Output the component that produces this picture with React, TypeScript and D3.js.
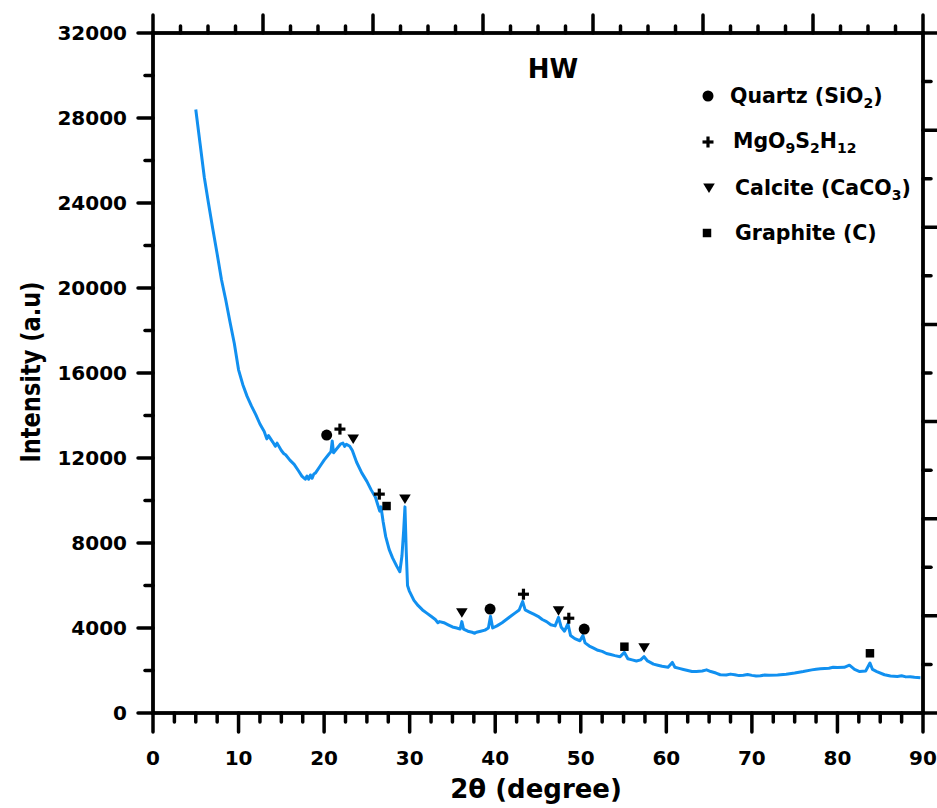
import React from "react";
import * as d3 from "d3";

// ---- data ----
const twoTheta = [
  5.0, 5.5, 6.0, 6.5, 7.0, 7.5, 8.0, 8.5, 9.0, 9.5, 10.0, 10.5, 11.0, 11.5, 12.0, 12.5, 13.0, 13.3, 13.5, 14.0, 14.3, 14.5,
  15.0, 15.3, 15.5, 16.0, 16.5, 17.0, 17.4, 17.8, 18.0, 18.2, 18.4, 18.6, 18.8, 19.0, 19.5, 20.0, 20.5, 20.8, 20.95, 21.1, 21.5, 21.9, 22.2, 22.4, 22.6,
  23.0, 23.3, 23.8, 24.4, 25.0, 25.5, 26.0, 26.5, 26.65, 26.9, 27.2, 27.6, 28.0, 28.5, 28.85, 29.1, 29.3, 29.45, 29.6, 29.75,
  29.95, 30.5, 31.0, 31.5, 32.0, 32.5, 33.0, 33.3, 33.5, 34.0, 34.5, 35.0, 35.5, 35.9, 36.1, 36.3, 36.8, 37.3, 37.6, 37.8, 38.3, 38.8,
  39.2, 39.45, 39.7, 40.2, 40.8, 41.3, 41.8, 42.3, 42.8, 43.2, 43.5, 44.0, 44.5, 45.0, 45.5, 46.0, 46.5, 47.0, 47.4, 47.7,
  48.1, 48.5, 48.8, 49.3, 49.9, 50.25, 50.5, 51.0, 51.5, 52.0, 52.5, 53.0, 53.5, 54.0, 54.6, 55.1, 55.5, 56.0, 56.5, 57.0,
  57.4, 57.8, 58.5, 59.0, 59.5, 60.2, 60.7, 61.0, 61.5, 62.0, 62.5, 63.0, 63.5, 64.2, 64.7, 65.2, 65.8, 66.3, 67.0, 67.5, 68.0, 68.5,
  69.0, 69.5, 70.0, 70.5, 71.0, 71.5, 72.0, 73.0, 74.0, 75.0, 76.0, 77.0, 77.5, 78.0, 79.0, 79.5, 80.0, 80.8, 81.4, 82.0, 82.6, 83.3, 83.8, 84.1, 84.6,
  85.5, 86.2, 87.0, 87.5, 88.0, 88.5, 89.0, 89.7,
];
const intensity = [
  28400, 26800, 25200, 23950, 22750, 21600, 20400, 19450, 18400, 17400, 16150, 15450, 14900, 14450, 14050, 13600, 13250, 12900, 13050, 12750, 12550, 12700,
  12350, 12200, 12150, 11900, 11700, 11400, 11150, 11000, 11150, 11000, 11200, 11050, 11250, 11300, 11600, 11900, 12150, 12300, 12800, 12250, 12450, 12650, 12700, 12550, 12650,
  12550, 12350, 11800, 11300, 10900, 10500, 10150, 9500, 9700, 9000, 8300, 7700, 7300, 6900, 6650, 7400, 8600, 9700, 7600, 6000,
  5750, 5300, 5050, 4850, 4700, 4550, 4400, 4250, 4300, 4250, 4150, 4050, 4000, 3950, 4300, 3950, 3850, 3800, 3750, 3800, 3850, 3900,
  4000, 4550, 4000, 4100, 4250, 4400, 4550, 4700, 4850, 5250, 4850, 4750, 4650, 4550, 4400, 4300, 4150, 4100, 4500, 4050,
  3850, 4200, 3650, 3500, 3400, 3650, 3300, 3150, 3050, 2950, 2900, 2800, 2750, 2700, 2650, 2850, 2550, 2500, 2450, 2500,
  2650, 2450, 2300, 2250, 2200, 2150, 2380, 2150, 2100, 2050, 2000, 1950, 1950, 1980, 2030, 1950, 1880, 1800, 1790, 1830, 1800, 1760,
  1780, 1810, 1770, 1740, 1750, 1790, 1780, 1790, 1820, 1880, 1950, 2030, 2060, 2080, 2110, 2150, 2140, 2150, 2250, 2050, 1950, 1980, 2350, 2050, 1950,
  1800, 1740, 1720, 1750, 1700, 1710, 1680, 1660,
];

// phase markers: [2θ, intensity]
const quartzPeaks = [[20.3, 13080], [39.4, 4890], [50.4, 3950]];
const mgPeaks = [[21.85, 13360], [26.45, 10300], [43.3, 5590], [48.6, 4460]];
const calcitePeaks = [[23.4, 12890], [29.45, 10070], [36.1, 4720], [47.4, 4810], [57.4, 3070]];
const graphitePeaks = [[27.3, 9740], [55.1, 3120], [83.8, 2810]];

const xTicks = [0, 10, 20, 30, 40, 50, 60, 70, 80, 90];
const yTicks = [0, 4000, 8000, 12000, 16000, 20000, 24000, 28000, 32000];

const W = 937, H = 808;
const L = 153, R = 923, T = 33, B = 713;
const FONT = "'DejaVu Sans', sans-serif";
const BLUE = "#1190f0";

export default function App() {
  const x = d3.scaleLinear().domain([0, 90]).range([L, R]);
  const y = d3.scaleLinear().domain([0, 32000]).range([B, T]);
  const xTop = d3.scaleLinear().domain([0, 7]).range([L, R]);
  const yRight = d3.scaleLinear().domain([0, 7]).range([B, T]);

  const pts = twoTheta.map((t, i) => [t, intensity[i]] as [number, number]);
  const line = d3.line<[number, number]>().x((d) => x(d[0])).y((d) => y(d[1]));

  const xMinor = d3.range(0, 90.01, 2.5).filter((v) => v % 10 !== 0);
  const yMinor = d3.range(0, 32001, 2000).filter((v) => v % 4000 !== 0);
  const topMinor = d3.range(0, 7.01, 0.25).filter((v) => v % 1 !== 0);
  const topMajor = d3.range(0, 8, 1);
  const rightMinor = d3.range(0, 7.01, 0.5).filter((v) => v % 1 !== 0);
  const rightMajor = d3.range(0, 8, 1);

  const circlePath = d3.symbol().type(d3.symbolCircle).size(95)()!;
  const squarePath = d3.symbol().type(d3.symbolSquare).size(72)()!;
  const triPath = "M-5.8,-4.5L5.8,-4.5L0,5Z";
  const plus = (cx: number, cy: number, k: string) => (
    <g key={k} stroke="#000" strokeWidth={3.2}>
      <line x1={cx - 5.5} x2={cx + 5.5} y1={cy} y2={cy} />
      <line x1={cx} x2={cx} y1={cy - 5.5} y2={cy + 5.5} />
    </g>
  );

  const tk = { stroke: "#000", strokeWidth: 3.5, strokeLinecap: "round" as const };
  const sub = (t: string) => (
    <tspan dy={5} fontSize={14}>{t}</tspan>
  );

  return (
    <svg width={W} height={H} style={{ position: "absolute", left: 0, top: 0, background: "#fff" }} fontFamily={FONT}>
      <rect width={W} height={H} fill="#fff" />

      {/* data line */}
      <path d={line(pts)!} fill="none" stroke={BLUE} strokeWidth={3} strokeLinejoin="round" />

      {/* markers */}
      {quartzPeaks.map((p, i) => (
        <path key={"q" + i} d={circlePath} transform={`translate(${x(p[0])},${y(p[1])})`} fill="#000" />
      ))}
      {mgPeaks.map((p, i) => plus(x(p[0]), y(p[1]), "m" + i))}
      {calcitePeaks.map((p, i) => (
        <path key={"c" + i} d={triPath} transform={`translate(${x(p[0])},${y(p[1])})`} fill="#000" />
      ))}
      {graphitePeaks.map((p, i) => (
        <path key={"g" + i} d={squarePath} transform={`translate(${x(p[0])},${y(p[1])})`} fill="#000" />
      ))}

      {/* frame */}
      <rect x={L} y={T} width={R - L} height={B - T} fill="none" stroke="#000" strokeWidth={3.8} />

      {/* bottom ticks */}
      {xTicks.map((v) => <line key={"xb" + v} x1={x(v)} x2={x(v)} y1={B} y2={B + 19} {...tk} />)}
      {xMinor.map((v) => <line key={"xm" + v} x1={x(v)} x2={x(v)} y1={B} y2={B + 9} {...tk} />)}
      {/* left ticks */}
      {yTicks.map((v) => <line key={"yl" + v} x1={L} x2={L - 15} y1={y(v)} y2={y(v)} {...tk} />)}
      {yMinor.map((v) => <line key={"ym" + v} x1={L} x2={L - 8} y1={y(v)} y2={y(v)} {...tk} />)}
      {/* top ticks */}
      {topMajor.map((v) => <line key={"tM" + v} x1={xTop(v)} x2={xTop(v)} y1={T} y2={T - 18} {...tk} />)}
      {topMinor.map((v) => <line key={"tm" + v} x1={xTop(v)} x2={xTop(v)} y1={T} y2={T - 7} {...tk} />)}
      {/* right ticks */}
      {rightMajor.map((v) => <line key={"rM" + v} x1={R} x2={R + 14} y1={yRight(v)} y2={yRight(v)} {...tk} />)}
      {rightMinor.map((v) => <line key={"rm" + v} x1={R} x2={R + 8} y1={yRight(v)} y2={yRight(v)} {...tk} />)}

      {/* tick labels */}
      {xTicks.map((v) => (
        <text key={"xl" + v} x={x(v)} y={765} textAnchor="middle" fontSize={20} fontWeight="bold">{v}</text>
      ))}
      {yTicks.map((v) => (
        <text key={"yt" + v} x={127} y={y(v)} dy="0.36em" textAnchor="end" fontSize={20} fontWeight="bold">{v}</text>
      ))}

      {/* axis titles */}
      <text x={536} y={798} textAnchor="middle" fontSize={26} fontWeight="bold">2θ (degree)</text>
      <text transform={`translate(40,372) rotate(-90) scale(1,1.2)`} textAnchor="middle" fontSize={22.5} fontWeight="bold">Intensity (a.u)</text>

      {/* title */}
      <text x={553} y={78} textAnchor="middle" fontSize={26} fontWeight="bold">HW</text>

      {/* legend */}
      <path d={circlePath} transform="translate(708,96)" fill="#000" />
      <text x={730} y={103} fontSize={20.5} fontWeight="bold">Quartz (SiO{sub("2")}<tspan dy={-5}>)</tspan></text>
      {plus(708, 142, "lp")}
      <text x={733} y={148} fontSize={20.5} fontWeight="bold">MgO{sub("9")}<tspan dy={-5}>S</tspan>{sub("2")}<tspan dy={-5}>H</tspan>{sub("12")}</text>
      <path d={triPath} transform="translate(709,188)" fill="#000" />
      <text x={735} y={195} fontSize={20.5} fontWeight="bold">Calcite (CaCO{sub("3")}<tspan dy={-5}>)</tspan></text>
      <path d={squarePath} transform="translate(707,233)" fill="#000" />
      <text x={735} y={240} fontSize={20.5} fontWeight="bold">Graphite (C)</text>
    </svg>
  );
}
